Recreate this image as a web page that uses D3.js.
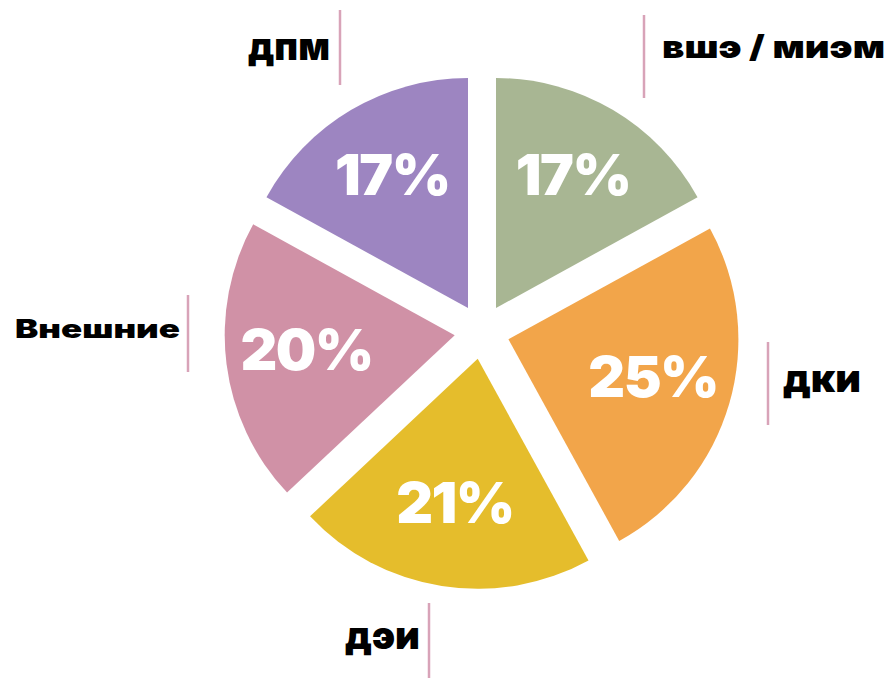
<!DOCTYPE html>
<html><head><meta charset="utf-8">
<script src="https://cdn.jsdelivr.net/npm/d3@7"></script>
<style>
html,body{margin:0;padding:0;background:#fff;}
svg{display:block;}
text{font-family:Inter,"Open Sans","DejaVu Sans",sans-serif;font-weight:900;}
</style></head>
<body>
<svg id="c" width="890" height="678"></svg>
<script>
// data
const categories = ["вшэ / миэм", "дки", "дэи", "Внешние", "дпм"];
const values = [17, 25, 21, 20, 17];
const valueLabels = ["17%", "25%", "21%", "20%", "17%"];
const colors = ["#a8b693", "#f2a54a", "#e5bd2c", "#d091a6", "#9d85c1"];

// layout for outside labels (text box + divider line)
const labelLayout = [
  {x: 662, y: 58, w: 223, size: 31, lineX: 644, y1: 15, y2: 98},
  {x: 783, y: 392, w: 78, size: 38, lineX: 768, y1: 342, y2: 425},
  {x: 345, y: 649, w: 75, size: 38, lineX: 429, y1: 603, y2: 678},
  {x: 15, y: 338, w: 165, size: 26, lineX: 188, y1: 295, y2: 372},
  {x: 248, y: 60, w: 82, size: 38, lineX: 340, y1: 10, y2: 85}
];

const svg = d3.select("#c");
const cx = 482, cy = 331.7, R = 230, explode = 27.5, labelR = 150;

const pie = d3.pie().sort(null).value(d => d)(values);
const arc = d3.arc().innerRadius(0).outerRadius(R);

const g = svg.append("g").attr("transform", `translate(${cx},${cy})`);
const slices = g.selectAll("g.slice").data(pie).join("g")
  .attr("class", "slice")
  .attr("transform", d => {
    const m = (d.startAngle + d.endAngle) / 2;
    return `translate(${explode * Math.sin(m)},${-explode * Math.cos(m)})`;
  });
slices.append("path").attr("d", arc).attr("fill", (d, i) => colors[i]);
slices.append("text")
  .attr("x", d => labelR * Math.sin((d.startAngle + d.endAngle) / 2) + 0.75)
  .attr("y", d => -labelR * Math.cos((d.startAngle + d.endAngle) / 2) + 16)
  .attr("text-anchor", "middle")
  .attr("fill", "#fff")
  .attr("font-size", 57)
  .attr("font-weight", 800)
  .attr("letter-spacing", -1.5)
  .text((d, i) => valueLabels[i]);

// outside labels
const lab = svg.append("g");
categories.forEach((c, i) => {
  const L = labelLayout[i];
  lab.append("line").attr("x1", L.lineX).attr("x2", L.lineX)
    .attr("y1", L.y1).attr("y2", L.y2)
    .attr("stroke", "#d8a3b8").attr("stroke-width", 2.5);
  lab.append("text").attr("x", L.x).attr("y", L.y)
    .attr("font-size", L.size).attr("fill", "#000")
    .attr("textLength", L.w).attr("lengthAdjust", "spacingAndGlyphs")
    .text(c);
});
</script>
</body></html>
